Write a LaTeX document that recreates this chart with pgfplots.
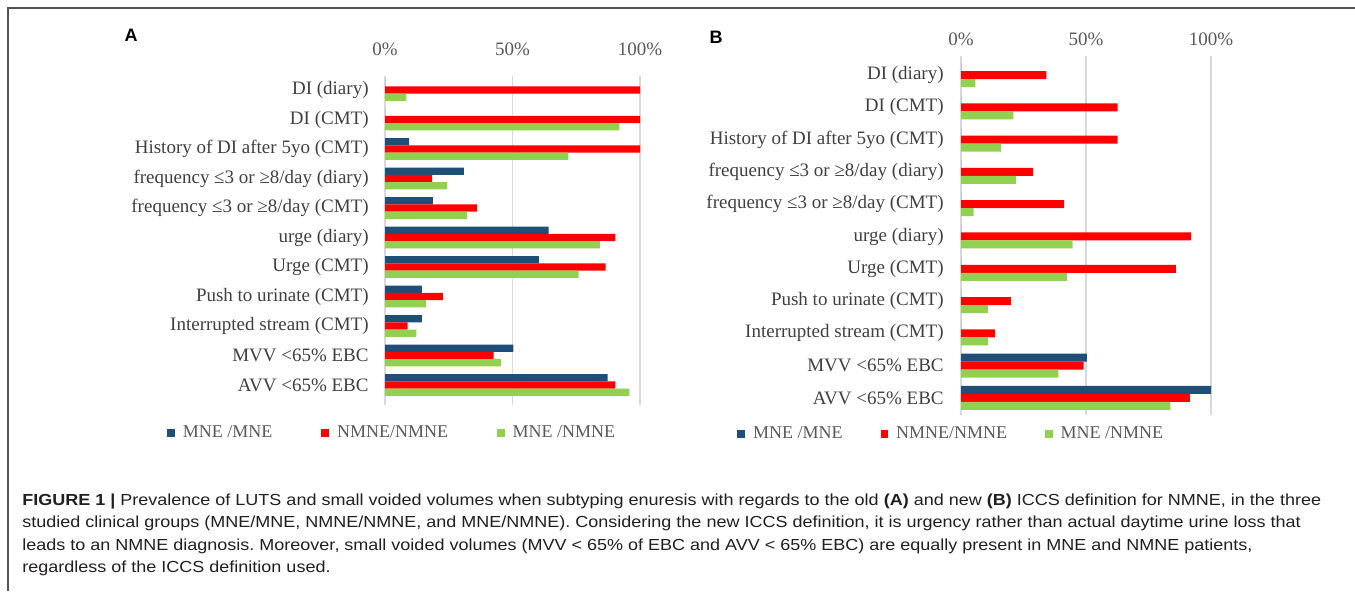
\documentclass[border=0pt]{standalone}
\usepackage{fontspec}
\setmainfont{Liberation Serif}
\newfontfamily\capfont{Liberation Sans}
\usepackage{pgfplots}
\usepackage{pgfplotstable}
\pgfplotsset{compat=1.18}
\definecolor{mnb}{HTML}{1F4E79}
\definecolor{mnr}{HTML}{FF0000}
\definecolor{mng}{HTML}{92D050}
\definecolor{gridc}{HTML}{D9D9D9}
\definecolor{tickc}{HTML}{595959}
\definecolor{labc}{HTML}{404040}
\definecolor{framec}{HTML}{555555}
\definecolor{capc}{HTML}{231F20}

\pgfplotstableread{
idx b r g
0 0 100 8.4
1 0 100 91.9
2 9.5 100 71.9
3 30.9 18.5 24.4
4 18.8 36.1 32.2
5 64.2 90.3 84.3
6 60.3 86.5 75.9
7 14.5 22.7 16.0
8 14.5 8.9 12.3
9 50.3 42.6 45.4
10 87.3 90.3 95.8
}\dataA

\pgfplotstableread{
idx b r g
0 0 34.1 5.7
1 0 62.6 20.9
2 0 62.6 15.9
3 0 28.8 22.0
4 0 41.2 5.0
5 0 92.0 44.6
6 0 85.9 42.3
7 0 19.9 10.7
8 0 13.6 10.7
9 50.3 49.0 38.9
10 100 91.5 83.7
}\dataB

\pgfplotsset{
  panel/.style={
    scale only axis, anchor=north west,
    xbar=0pt,
    xmin=0, xmax=100, y dir=reverse,
    xtick={0,50,100}, xticklabels={0\%,50\%,100\%},
    xticklabel pos=upper,
    ytick={0,1,2,3,4,5,6,7,8,9,10},
    yticklabels={DI (diary),DI (CMT),History of DI after 5yo (CMT),frequency ≤3 or ≥8/day (diary),frequency ≤3 or ≥8/day (CMT),urge (diary),Urge (CMT),Push to urinate (CMT),Interrupted stream (CMT),MVV <65\% EBC,AVV <65\% EBC},
    xmajorgrids, ymajorgrids=false,
    major grid style={draw=gridc, line width=0.6pt},
    axis line style={draw=none},
    major tick length=0pt,
    tick label style={font=\fontsize{9.5}{11}\selectfont, inner sep=0pt},
    xticklabel style={text=tickc},
    yticklabel style={anchor=east, text=labc},
    legend columns=3,
    legend cell align=left,
    legend style={draw=none, fill=none, inner sep=0pt, anchor=west,
      font=\fontsize{9}{10}\selectfont, text=tickc,
      /tikz/every odd column/.append style={column sep=2pt}},
    legend image code/.code={\path[##1] (0pt,-1.9pt) rectangle (3.8pt,1.9pt);},
    clip=false,
  }
}

\begin{document}
\begin{tikzpicture}
\useasboundingbox (0,0) rectangle (677.5pt,-295.5pt);
\fill[white] (0,0) rectangle (677.5pt,-295.5pt);
\draw[framec, line width=0.8pt] (4pt,-295.5pt) -- (4pt,-4pt) -- (677.5pt,-4pt);

\node[font=\capfont\bfseries\fontsize{9}{10}\selectfont] at (65.5pt,-17.5pt) {A};
\node[font=\capfont\bfseries\fontsize{9}{10}\selectfont] at (358pt,-18.5pt) {B};

\begin{axis}[panel,
  at={(192.5pt,-38pt)}, width=127.5pt, height=164.5pt,
  bar width=3.65pt,
  ymin=-0.475, ymax=10.68,
  xticklabel style={yshift=9.8pt},
  yticklabel style={xshift=-8pt},
  legend style={at={(-0.855,-0.085)},
    /tikz/every even column/.append style={column sep=22.5pt}},
]
\addplot[fill=mnb, draw=none, bar shift=3.65pt] table[x=b, y=idx] {\dataA};
\addplot[fill=mnr, draw=none, bar shift=0pt] table[x=r, y=idx] {\dataA};
\addplot[fill=mng, draw=none, bar shift=-3.65pt] table[x=g, y=idx] {\dataA};
\legend{MNE /MNE, NMNE/NMNE, MNE /NMNE}
\end{axis}

\begin{axis}[panel,
  at={(480.5pt,-28pt)}, width=125pt, height=179.5pt,
  bar width=4pt,
  ymin=-0.59, ymax=10.53,
  xticklabel style={yshift=4.8pt},
  yticklabel style={xshift=-8.5pt},
  legend style={at={(-0.896,-0.053)},
    /tikz/every even column/.append style={column sep=17pt}},
]
\addplot[fill=mnb, draw=none, bar shift=4pt] table[x=b, y=idx] {\dataB};
\addplot[fill=mnr, draw=none, bar shift=0pt] table[x=r, y=idx] {\dataB};
\addplot[fill=mng, draw=none, bar shift=-4pt] table[x=g, y=idx] {\dataB};
\legend{MNE /MNE, NMNE/NMNE, MNE /NMNE}
\end{axis}

\begin{scope}[every node/.style={anchor=base west, inner sep=0pt, text=capc, font=\capfont\fontsize{8}{9}\selectfont\frenchspacing}]
\node at (11pt,-252.5pt) {\scalebox{1.125}[1]{\textbf{FIGURE 1 |} Prevalence of LUTS and small voided volumes when subtyping enuresis with regards to the old \textbf{(A)} and new \textbf{(B)} ICCS definition for NMNE, in the three}};
\node at (11pt,-263.75pt) {\scalebox{1.125}[1]{studied clinical groups (MNE/MNE, NMNE/NMNE, and MNE/NMNE). Considering the new ICCS definition, it is urgency rather than actual daytime urine loss that}};
\node at (11pt,-275pt) {\scalebox{1.125}[1]{leads to an NMNE diagnosis. Moreover, small voided volumes (MVV < 65\% of EBC and AVV < 65\% EBC) are equally present in MNE and NMNE patients,}};
\node at (11pt,-286.25pt) {\scalebox{1.125}[1]{regardless of the ICCS definition used.}};
\end{scope}
\end{tikzpicture}
\end{document}
